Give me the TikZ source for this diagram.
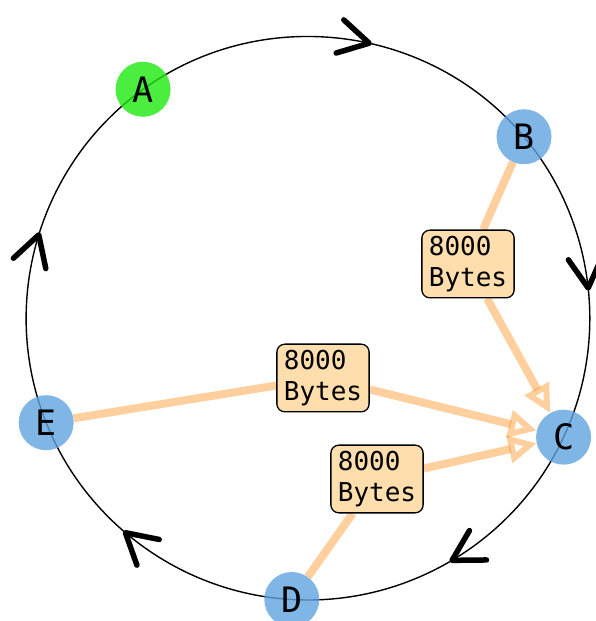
\documentclass[tikz,border=0pt]{standalone}
\usepackage{fontspec}
\setmonofont{DejaVu Sans Mono}
\usetikzlibrary{arrows.meta,calc,decorations.markings}
\definecolor{hostblue}{RGB}{96,164,224}
\definecolor{hostgreen}{RGB}{30,234,15}
\definecolor{msgfill}{RGB}{255,222,173}
\pgfdeclarelayer{background}
\pgfsetlayers{background,main}

\begin{document}
\begin{tikzpicture}[x=1pt,y=1pt,
		host/.style={circle, minimum size=55pt, inner sep=0pt, fill=hostblue, fill opacity=0.8, text opacity=1, font=\ttfamily\fontsize{35}{35}\selectfont},
		msg/.style={draw, line width=1.3pt, rounded corners=8pt, fill=msgfill, align=left, inner xsep=7pt, inner ysep=6pt, font=\ttfamily\fontsize{26}{31}\selectfont},
		flow/.style={draw=orange, draw opacity=0.38, line width=8pt, -{Triangle[open,length=28pt,width=27pt,line width=6pt]}},
		ring/.style={line width=1.4pt, decoration={markings, mark=at position #1 with {\arrow{Straight Barb[length=30pt,width=34pt,line width=5.5pt,round]}}}, postaction={decorate}}
	]
	\useasboundingbox (0,0) rectangle (595,621);
	\coordinate (O) at (308,303);
	% hosts on the ring
	\node[host, fill=hostgreen] (A) at ($(O)+(125.8:282)$) {A};
	\node[host] (B) at ($(O)+(40:282)$) {B};
	\node[host] (C) at ($(O)+(-25:282)$) {C};
	\node[host] (D) at ($(O)+(-93.3:282)$) {D};
	\node[host] (E) at ($(O)+(-158.2:282)$) {E};
	% messages
	\node[msg] (bc) at (468,357) {8000\\Bytes};
	\node[msg] (ec) at (323,243) {8000\\Bytes};
	\node[msg] (dc) at (377,142) {8000\\Bytes};
	\begin{pgfonlayer}{background}
		\draw[ring=0.57] (A.center) to[bend left=42.9, looseness=0.98] (B.center);
		\draw[ring=0.53] (B.center) to[bend left=32.5, looseness=0.92] (C.center);
		\draw[ring=0.51] (C.center) to[bend left=34.2, looseness=0.93] (D.center);
		\draw[ring=0.58] (D.center) to[bend left=32.5, looseness=0.92] (E.center);
		\draw[ring=0.52] (E.center) to[bend left=38, looseness=0.95] (A.center);
		\draw[flow] (B) -- (bc) -- (C);
		\draw[flow] (E) -- (ec) -- (C);
		\draw[flow] (D) -- (dc) -- (C);
	\end{pgfonlayer}
\end{tikzpicture}
\end{document}
